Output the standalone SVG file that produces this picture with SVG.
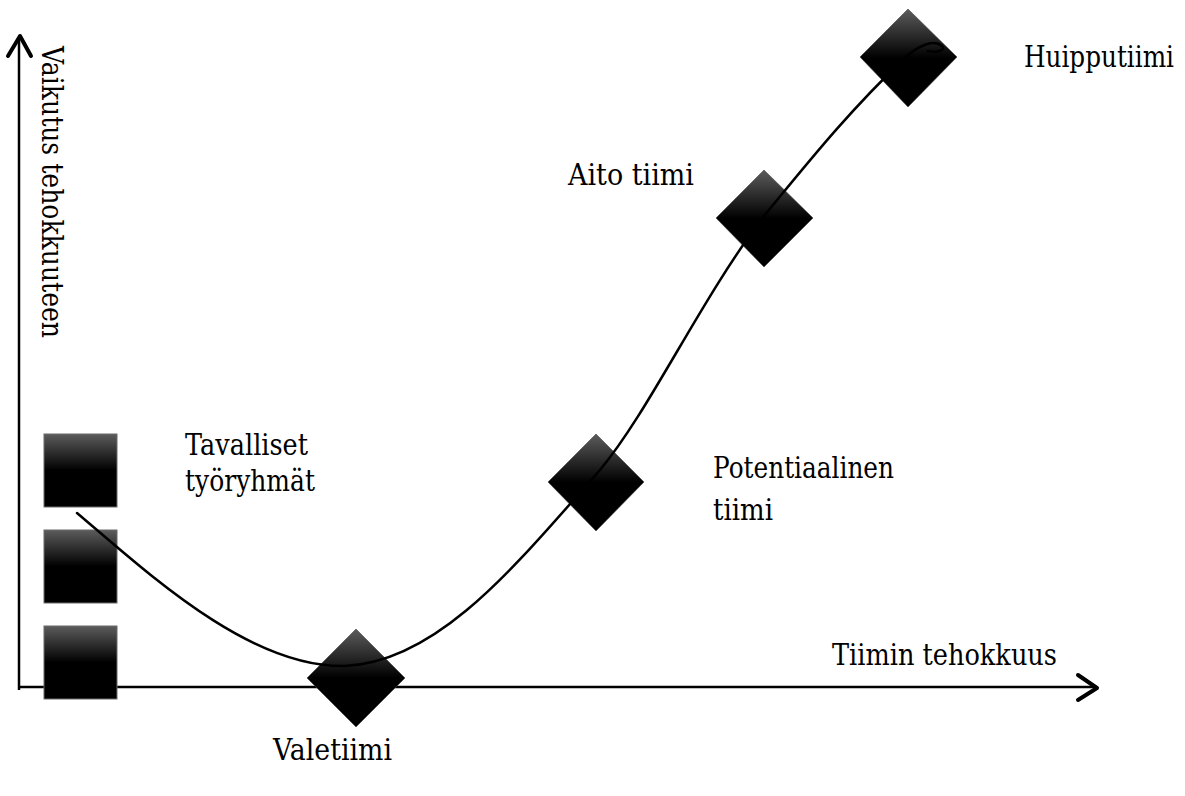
<svg xmlns="http://www.w3.org/2000/svg" width="1185" height="796" viewBox="0 0 1185 796">
<style>
.ax{stroke:#000;stroke-width:2.5;fill:none}
.ah{stroke:#000;stroke-width:4;fill:none;stroke-linecap:round;stroke-linejoin:round}
.sq{fill:url(#g);stroke:#6a6a6a;stroke-width:1}
.dm{fill:url(#g);stroke:#444;stroke-width:0.6}
.cv{stroke:#000;stroke-width:2.5;fill:none;stroke-linecap:round}
</style>
<defs>
<linearGradient id="g" x1="0" y1="0" x2="0" y2="1">
<stop offset="0" stop-color="#5c5c5c"/>
<stop offset="0.5" stop-color="#000"/>
<stop offset="1" stop-color="#000"/>
</linearGradient>
</defs>
<rect width="1185" height="796" fill="#fff"/>
<g id="axes">
<line class="ax" x1="19" y1="690" x2="19" y2="37"/>
<polyline class="ah" points="8,56 20,36 31,56"/>
<line class="ax" x1="18" y1="687" x2="1096" y2="687"/>
<polyline class="ah" points="1078,675 1097,688 1078,700"/>
</g>
<g id="node-tavalliset">
<rect class="sq" x="44" y="434" width="73" height="73"/>
<rect class="sq" x="44" y="530" width="73" height="73"/>
<rect class="sq" x="44" y="626" width="73" height="73"/>
</g>
<g id="node-valetiimi"><polygon class="dm" points="356,629 405,678 356,727 307,678"/></g>
<g id="node-potentiaalinen"><polygon class="dm" points="596,434 644,482 596,531 548,482"/></g>
<g id="node-aito"><polygon class="dm" points="764,170 813,218 764,267 716,218"/></g>
<g id="node-huippu"><polygon class="dm" points="908,9 957,57 908,107 860,57"/></g>
<g id="connectors">
<path class="cv" d="M77,513 C150,575 250,668 345,666 C440,662 520,560 600,470 C650,410 700,300 764,216 C810,160 850,110 905,58 C915,48 933,38 942,46 C946,50 938,53 928,51"/>
</g>
<g id="labels" font-family="DejaVu Serif, Liberation Serif, serif" font-size="29" fill="#000">
<text transform="translate(42,46) rotate(90)" textLength="292" lengthAdjust="spacingAndGlyphs">Vaikutus tehokkuuteen</text>
<text x="1024" y="67" textLength="150" lengthAdjust="spacingAndGlyphs">Huipputiimi</text>
<text x="568" y="185" textLength="126" lengthAdjust="spacingAndGlyphs">Aito tiimi</text>
<text x="185" y="455" textLength="123" lengthAdjust="spacingAndGlyphs">Tavalliset</text>
<text x="185" y="491" textLength="130" lengthAdjust="spacingAndGlyphs">työryhmät</text>
<text x="713" y="478" textLength="181" lengthAdjust="spacingAndGlyphs">Potentiaalinen</text>
<text x="713" y="520" textLength="60" lengthAdjust="spacingAndGlyphs">tiimi</text>
<text x="832" y="665" textLength="225" lengthAdjust="spacingAndGlyphs">Tiimin tehokkuus</text>
<text x="273" y="760" textLength="119" lengthAdjust="spacingAndGlyphs">Valetiimi</text>
</g>
</svg>
